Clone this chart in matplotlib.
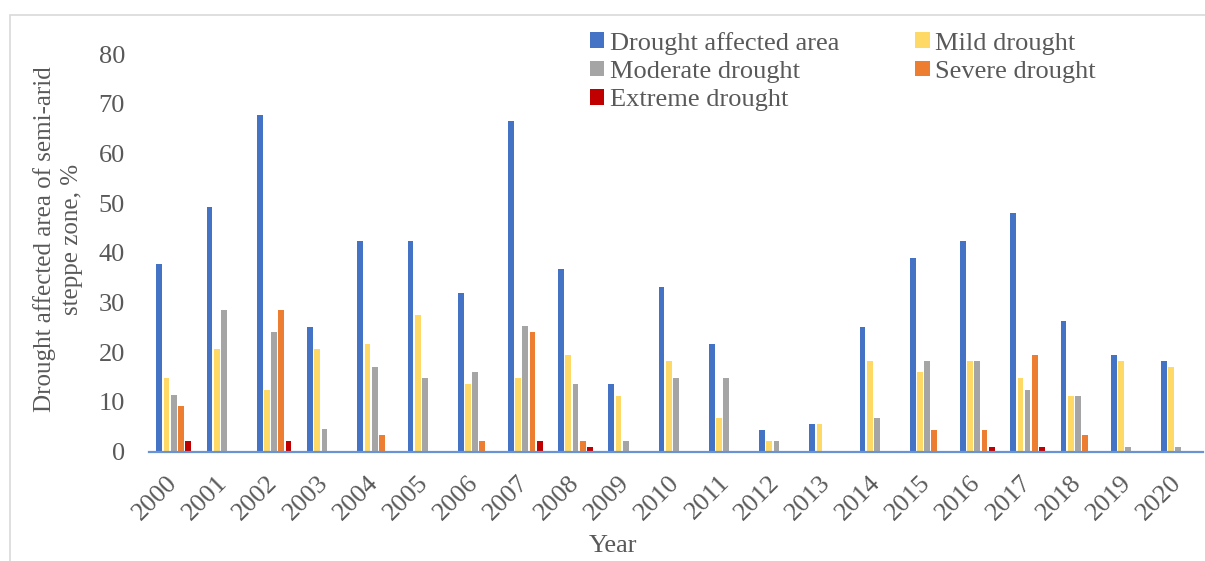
import numpy as np
import matplotlib
matplotlib.use("Agg")
import matplotlib.pyplot as plt
from matplotlib.patches import Rectangle

plt.rcParams['font.family'] = ['Liberation Serif', 'DejaVu Serif']

years = [str(y) for y in range(2000, 2021)]
series = ["Drought affected area", "Mild drought", "Moderate drought",
          "Severe drought", "Extreme drought"]
colors = ["#4472C4", "#FFD966", "#A5A5A5", "#ED7D31", "#C00000"]

affected = [37.7, 49.2, 67.7, 25.1, 42.4, 42.4, 32.0, 66.5, 36.7, 13.6, 33.2,
            21.6, 4.4, 5.6, 25.1, 38.9, 42.4, 48.1, 26.3, 19.4, 18.2]
mild = [14.8, 20.6, 12.4, 20.6, 21.6, 27.5, 13.6, 14.8, 19.4, 11.3, 18.2,
        6.8, 2.2, 5.6, 18.2, 16.0, 18.2, 14.8, 11.3, 18.2, 17.1]
moderate = [11.4, 28.6, 24.0, 4.5, 17.1, 14.8, 16.0, 25.2, 13.6, 2.2, 14.8,
            14.8, 2.2, 0, 6.8, 18.2, 18.2, 12.5, 11.3, 1.0, 1.0]
severe = [9.1, 0, 28.6, 0, 3.3, 0, 2.2, 24.0, 2.2, 0, 0,
          0, 0, 0, 0, 4.4, 4.4, 19.4, 3.3, 0, 0]
extreme = [2.2, 0, 2.2, 0, 0, 0, 0, 2.2, 1.0, 0, 0,
           0, 0, 0, 0, 0, 1.0, 1.0, 0, 0, 0]

data = [affected, mild, moderate, severe, extreme]

W, H = 1205, 561
fig = plt.figure(figsize=(W / 100, H / 100), dpi=100)
ax = fig.add_axes([148.6 / W, 1 - 451.7 / H, (1203.4 - 148.6) / W, (451.7 - 54) / H])

x = np.arange(len(years))
slot = 0.1433
bars = []
for k, (vals, name, col) in enumerate(zip(data, series, colors)):
    b = ax.bar(x + (k - 2) * slot, vals, width=slot * 0.8, color=col, label=name)
    bars.append(b)

ax.set_xlim(-0.5, len(years) - 0.5)
ax.set_ylim(0, 80)
ax.set_yticks(range(0, 81, 10))
ax.set_xticks(x)
ax.set_xticklabels(years, rotation=45, ha="right", va="center",
                   rotation_mode="anchor")
ax.tick_params(axis="both", length=0, labelsize=19, colors="#595959")
ax.tick_params(axis="y", pad=17)
ax.tick_params(axis="x", pad=20)

for s in ["top", "right", "left"]:
    ax.spines[s].set_visible(False)
ax.spines["bottom"].set_color("#6A93D4")
ax.spines["bottom"].set_linewidth(1.6)

fig.text(58 / W, 1 - 239 / H, "Drought affected area of semi-arid\nsteppe zone, %",
         rotation=90, ha="center", va="center", fontsize=18, color="#595959",
         multialignment="center", linespacing=1.35)
fig.text(613 / W, 1 - 546 / H, "Year", ha="center", va="center",
         fontsize=19, color="#595959")

# legend filled row by row: two entries per row
order = [0, 2, 4, 1, 3]
leg = fig.legend([bars[i] for i in order], [series[i] for i in order],
                 loc="upper left", bbox_to_anchor=(566 / W, 1 - 8 / H), ncol=2,
                 frameon=False, fontsize=19, handlelength=0.55, handleheight=0.55,
                 handletextpad=0.2, columnspacing=2.9, labelspacing=0.22)
for t in leg.get_texts():
    t.set_color("#595959")

# light frame around the chart area
fig.add_artist(Rectangle((10 / W, -0.1), 1.2, 1 - 15 / H + 0.1,
                         transform=fig.transFigure, fill=False,
                         edgecolor="#D9D9D9", linewidth=1.2))

fig.savefig("out.png", dpi=100)
